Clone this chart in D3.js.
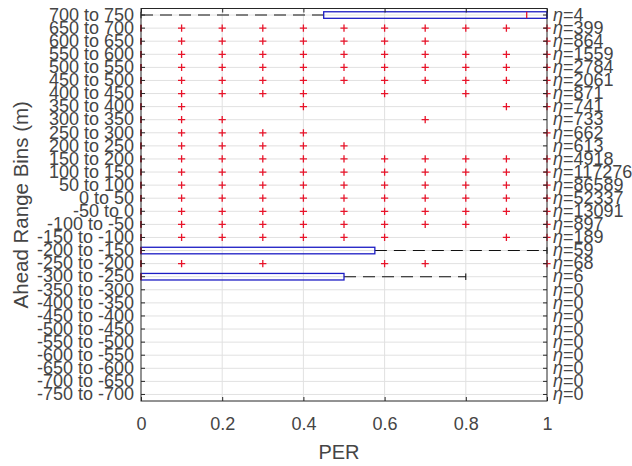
<!DOCTYPE html>
<html>
<head>
<meta charset="utf-8">
<script src="https://cdn.jsdelivr.net/npm/d3@7"></script>
<style>
  html, body { margin: 0; padding: 0; background: #fff; }
  svg { display: block; font-family: "Liberation Sans", Arial, Helvetica, sans-serif; }
</style>
</head>
<body>
<svg id="chart" width="632" height="466"></svg>
<script>
// ---------- data ----------
const binLabels = [
  "700 to 750", "650 to 700", "600 to 650", "550 to 600", "500 to 550",
  "450 to 500", "400 to 450", "350 to 400", "300 to 350", "250 to 300",
  "200 to 250", "150 to 200", "100 to 150", "50 to 100", "0 to 50",
  "-50 to 0", "-100 to -50", "-150 to -100", "-200 to -150", "-250 to -200",
  "-300 to -250", "-350 to -300", "-400 to -350", "-450 to -400", "-500 to -450",
  "-550 to -500", "-600 to -550", "-650 to -600", "-700 to -650", "-750 to -700"
];
const nValues = [4, 399, 864, 1559, 2784, 2061, 871, 741, 733, 662, 613, 4918, 117276, 86589,
  52337, 13091, 897, 189, 59, 68, 6, 0, 0, 0, 0, 0, 0, 0, 0, 0];

// box statistics per bin (null = no data)
const q1Values = [0.45, 0, 0, 0, 0, 0, 0, 0, 0, 0, 0, 0, 0, 0, 0, 0, 0, 0, 0, 0, 0,
  null, null, null, null, null, null, null, null, null];
const medianValues = [0.95, 0, 0, 0, 0, 0, 0, 0, 0, 0, 0, 0, 0, 0, 0, 0, 0, 0, 0, 0, 0,
  null, null, null, null, null, null, null, null, null];
const q3Values = [1, 0, 0, 0, 0, 0, 0, 0, 0, 0, 0, 0, 0, 0, 0, 0, 0, 0, 0.576, 0, 0.5,
  null, null, null, null, null, null, null, null, null];
const whiskerLow = [0, 0, 0, 0, 0, 0, 0, 0, 0, 0, 0, 0, 0, 0, 0, 0, 0, 0, 0, 0, 0,
  null, null, null, null, null, null, null, null, null];
const whiskerHigh = [1, 0, 0, 0, 0, 0, 0, 0, 0, 0, 0, 0, 0, 0, 0, 0, 0, 0, 1, 0, 0.8,
  null, null, null, null, null, null, null, null, null];
const allTenths = [0.1, 0.2, 0.3, 0.4, 0.5, 0.6, 0.7, 0.8, 0.9, 1];
const outlierValues = [
  [],
  allTenths,
  [0.1, 0.2, 0.3, 0.4, 0.5, 0.6, 0.7, 1],
  allTenths,
  allTenths,
  allTenths,
  [0.1, 0.2, 0.3, 0.4, 0.6, 0.8, 1],
  [0.1, 0.4, 0.9, 1],
  [0.1, 0.2, 0.7],
  [0.1, 0.2, 0.3, 0.4, 1],
  [0.1, 0.2, 0.3, 0.4, 0.5],
  allTenths,
  allTenths,
  allTenths,
  allTenths,
  allTenths,
  [0.1, 0.2, 0.3, 0.4, 0.5, 0.6, 0.7, 0.8, 1],
  [0.1, 0.2, 0.3, 0.4, 0.5, 0.6, 0.9, 1],
  [],
  [0.1, 0.3, 0.6, 0.7, 1],
  [],
  [], [], [], [], [], [], [], [], []
];
const xTicks = [0, 0.2, 0.4, 0.6, 0.8, 1];
const xTickLabels = ["0", "0.2", "0.4", "0.6", "0.8", "1"];
const xTitle = "PER";
const yTitle = "Ahead Range Bins (m)";

// ---------- layout ----------
const svg = d3.select("#chart");
const mLeft = 141, mRight = 547, mTop = 8.5, mBottom = 401;
const x = d3.scaleLinear().domain([0, 1]).range([mLeft, mRight]);
const y = d3.scaleBand().domain(binLabels).range([mTop, mBottom]).padding(0);
const bw = y.bandwidth();
const cy = i => y(binLabels[i]) + bw / 2;
const boxH = bw * 0.5;
const capH = bw * 0.25;

const textColor = "#454545";
const gridColor = "#e1e1e1";
const red = "#e8142a";
const blue = "#1c1cc4";

// ---------- grid ----------
const grid = svg.append("g");
grid.selectAll("line.h").data(binLabels).join("line")
  .attr("x1", mLeft).attr("x2", mRight)
  .attr("y1", (d, i) => cy(i)).attr("y2", (d, i) => cy(i))
  .attr("stroke", gridColor).attr("stroke-width", 1);
grid.selectAll("line.v").data(xTicks.slice(1, -1)).join("line")
  .attr("x1", d => x(d)).attr("x2", d => x(d))
  .attr("y1", mTop).attr("y2", mBottom)
  .attr("stroke", gridColor).attr("stroke-width", 1);

// ---------- boxplots ----------
const rows = binLabels.map((b, i) => ({
  i, q1: q1Values[i], med: medianValues[i], q3: q3Values[i],
  wl: whiskerLow[i], wh: whiskerHigh[i], out: outlierValues[i]
})).filter(r => r.med !== null);

const plot = svg.append("g");
plot.selectAll("line.wlo").data(rows.filter(r => r.q1 > r.wl)).join("line")
  .attr("x1", r => x(r.wl)).attr("x2", r => x(r.q1))
  .attr("y1", r => cy(r.i)).attr("y2", r => cy(r.i))
  .attr("stroke", "#111").attr("stroke-width", 1.1).attr("stroke-dasharray", "12,7");
plot.selectAll("line.whi").data(rows.filter(r => r.wh > r.q3)).join("line")
  .attr("x1", r => x(r.q3)).attr("x2", r => x(r.wh))
  .attr("y1", r => cy(r.i)).attr("y2", r => cy(r.i))
  .attr("stroke", "#111").attr("stroke-width", 1.1).attr("stroke-dasharray", "12,7");
const caps = [];
rows.forEach(r => { caps.push({ i: r.i, v: r.wl }); caps.push({ i: r.i, v: r.wh }); });
plot.selectAll("line.cap").data(caps).join("line")
  .attr("x1", c => x(c.v)).attr("x2", c => x(c.v))
  .attr("y1", c => cy(c.i) - capH).attr("y2", c => cy(c.i) + capH)
  .attr("stroke", "#000").attr("stroke-width", 1);
plot.selectAll("rect.box").data(rows).join("rect")
  .attr("x", r => x(r.q1)).attr("width", r => Math.max(0, x(r.q3) - x(r.q1)))
  .attr("y", r => cy(r.i) - boxH / 2).attr("height", boxH)
  .attr("fill", "none").attr("stroke", blue).attr("stroke-width", 1.3);
plot.selectAll("line.med").data(rows).join("line")
  .attr("x1", r => x(r.med)).attr("x2", r => x(r.med))
  .attr("y1", r => cy(r.i) - boxH / 2).attr("y2", r => cy(r.i) + boxH / 2)
  .attr("stroke", red).attr("stroke-width", 1.3);
const outs = [];
rows.forEach(r => r.out.forEach(v => outs.push({ i: r.i, v })));
const m = 3.6;
plot.selectAll("path.out").data(outs).join("path")
  .attr("d", o => `M${x(o.v) - m},${cy(o.i)}H${x(o.v) + m}M${x(o.v)},${cy(o.i) - m}V${cy(o.i) + m}`)
  .attr("stroke", red).attr("stroke-width", 1.3).attr("fill", "none");

// ---------- axes ----------
const fontSize = 18;
const xAxis = svg.append("g").attr("transform", `translate(0,${mBottom})`)
  .call(d3.axisBottom(x).tickValues(xTicks).tickFormat((d, i) => xTickLabels[i])
    .tickSizeInner(-4).tickSizeOuter(0).tickPadding(16));
const xAxisTop = svg.append("g").attr("transform", `translate(0,${mTop})`)
  .call(d3.axisTop(x).tickValues(xTicks).tickFormat("").tickSizeInner(-4).tickSizeOuter(0));
const yAxis = svg.append("g").attr("transform", `translate(${mLeft},0)`)
  .call(d3.axisLeft(y).tickSizeInner(-4).tickSizeOuter(0).tickPadding(7));
const yAxisRight = svg.append("g").attr("transform", `translate(${mRight},0)`)
  .call(d3.axisRight(y).tickFormat("").tickSizeInner(-4).tickSizeOuter(0).tickPadding(6));

[xAxis, xAxisTop, yAxis, yAxisRight].forEach(g => {
  g.select(".domain").remove();
  g.selectAll(".tick line").attr("stroke", "#262626");
  g.selectAll("text").attr("fill", textColor).style("font-size", fontSize + "px")
    .style("font-family", '"Liberation Sans", Arial, sans-serif');
});
xAxis.selectAll("text").attr("dy", "0.72em");

yAxisRight.selectAll(".tick text").each(function (d) {
  const t = d3.select(this);
  t.text(null);
  t.append("tspan").attr("font-style", "italic").text("\u03b7");
  t.append("tspan").text("=" + nValues[binLabels.indexOf(d)]);
});

svg.append("rect").attr("x", mLeft).attr("y", mTop)
  .attr("width", mRight - mLeft).attr("height", mBottom - mTop)
  .attr("fill", "none").attr("stroke", "#262626").attr("stroke-width", 1);

svg.append("text").attr("x", (mLeft + mRight) / 2 - 5).attr("y", 459)
  .attr("text-anchor", "middle").attr("fill", textColor)
  .style("font-size", "20px").text(xTitle);
svg.append("text")
  .attr("transform", `translate(28,${(mTop + mBottom) / 2}) rotate(-90)`)
  .attr("text-anchor", "middle").attr("fill", textColor)
  .style("font-size", "20.5px").text(yTitle);
</script>
</body>
</html>
